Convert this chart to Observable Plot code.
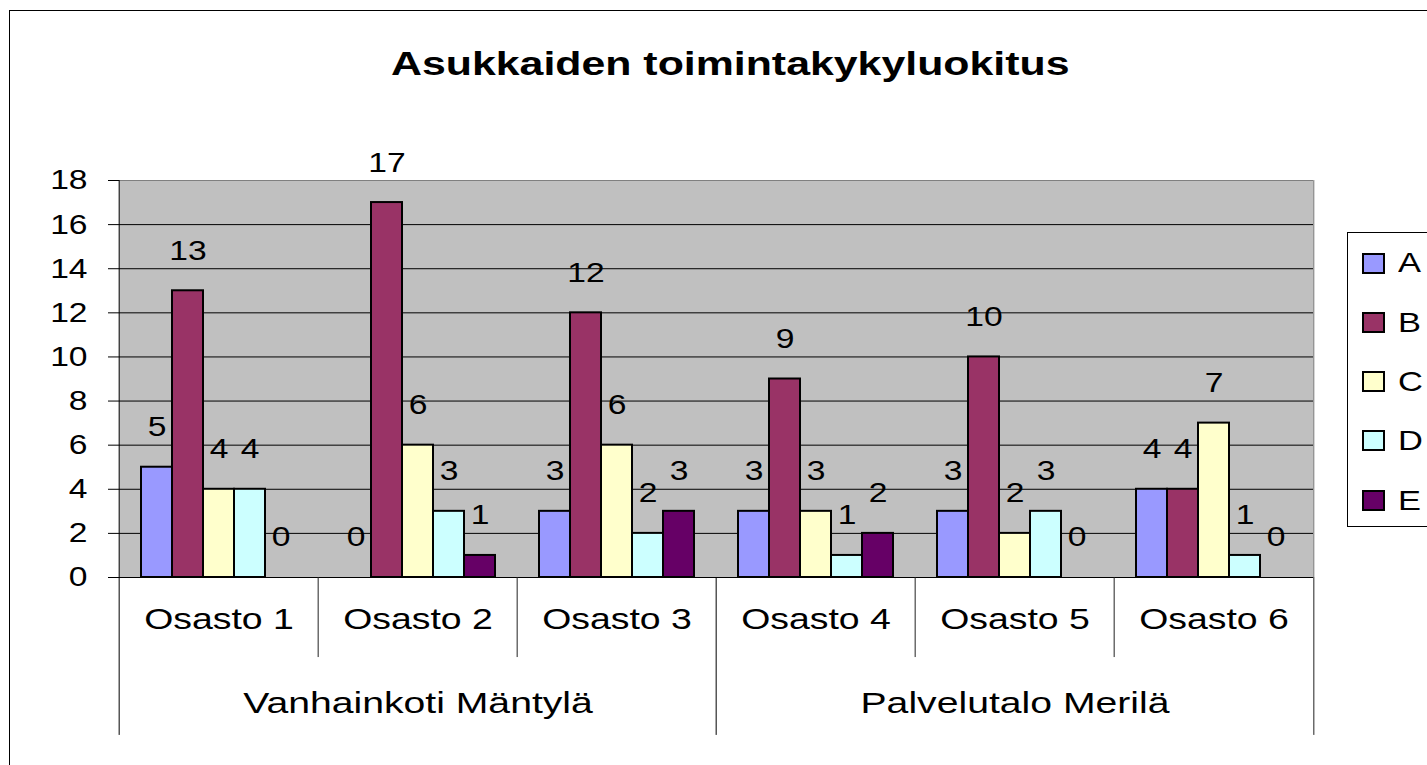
<!DOCTYPE html>
<html><head><meta charset="utf-8">
<script src="https://cdn.jsdelivr.net/npm/d3@7"></script>
<script src="https://cdn.jsdelivr.net/npm/@observablehq/plot@0.6"></script>
<style>
html,body{margin:0;padding:0;background:#fff}
#page{position:relative;width:1427px;height:765px;overflow:hidden;background:#fff;font-family:"Liberation Sans",Arial,sans-serif}
#frame{position:absolute;left:9px;top:10px;width:1500px;height:900px;border:1px solid #000}
#title{position:absolute;left:0;width:1460px;top:46px;text-align:center;font-size:34px;line-height:34px;font-weight:bold}
#title span{display:inline-block;transform:scaleX(1.26)}
#chart{position:absolute;left:0;top:130px}
#legend{position:absolute;left:1347px;top:232px;width:300px;height:295px;border:1px solid #000;box-sizing:border-box}
.item{position:absolute;left:0;top:0}
.sw{position:absolute;left:14px;width:19px;height:17px;border:2px solid #000}
.lab{position:absolute;left:50px;font-size:28px;line-height:28px;transform:scaleX(1.23);transform-origin:left center}
</style></head>
<body>
<div id="page">
<div id="frame"></div>
<div id="title"><span>Asukkaiden toimintakykyluokitus</span></div>
<div id="chart"></div>
<div id="legend"></div>
</div>
<script>
const osasto = ["Osasto 1","Osasto 2","Osasto 3","Osasto 4","Osasto 5","Osasto 6"];
const yksikot = ["Vanhainkoti Mäntylä","Palvelutalo Merilä"];
const yksikkoOsastot = [["Osasto 1","Osasto 2","Osasto 3"],["Osasto 4","Osasto 5","Osasto 6"]];
const luokat = ["A","B","C","D","E"];
const A = [5,0,3,3,3,4];
const B = [13,17,12,9,10,4];
const C = [4,6,6,3,2,7];
const D = [4,3,2,1,3,1];
const E = [0,1,3,2,0,0];
const colors = ["#9999FF","#993366","#FFFFCC","#CCFFFF","#660066"];
const yTicks = [0,2,4,6,8,10,12,14,16,18];

const seriesVals = {A, B, C, D, E};
const rows = [];
osasto.forEach((o,i)=> luokat.forEach(l => rows.push({osasto:o, luokka:l, arvo: seriesVals[l][i]})));

const W=1427,H=635,ML=117,MR=112,MT=50,MB=188;
const fw = (W-ML-MR)/osasto.length;
const yMax = yTicks[yTicks.length-1];
const longSeps = yksikkoOsastot.map(u=>u[0]).filter(o=>o!==osasto[0]);
const shortSeps = yksikkoOsastot.flatMap(u=>u.slice(1));
const last = osasto[osasto.length-1];

const chart = Plot.plot({
  width:W, height:H, marginLeft:ML, marginRight:MR, marginTop:MT, marginBottom:MB,
  style:{fontFamily:"Liberation Sans, Arial, sans-serif", fontSize:"28px", color:"#000", background:"transparent", overflow:"visible"},
  fx:{domain:osasto, padding:0, axis:null},
  x:{domain:luokat, paddingInner:0, paddingOuter:0.625, axis:null},
  y:{domain:[0,yMax], ticks:yTicks, tickSize:11, tickPadding:21, label:null},
  color:{domain:luokat, range:colors},
  marks:[
    Plot.frame({fill:"#C0C0C0", stroke:"none", insetLeft:-0.5, insetRight:-0.5}),
    Plot.ruleY(yTicks.filter(t=>t>0 && t<yMax), {stroke:"#000", strokeWidth:1}),
    Plot.ruleY([yMax], {stroke:"#808080"}),
    Plot.barY(rows, {fx:"osasto", x:"luokka", y:"arvo", fill:"luokka", stroke:"#000", strokeWidth:2}),
    Plot.ruleY([0], {stroke:"#000"}),
    Plot.text(rows, {fx:"osasto", x:"luokka", y:"arvo", text:d=>String(d.arvo), dy:-40, fontSize:28, fill:"#000"}),
    Plot.ruleX([osasto[0]], {fx:d=>d, x:null, y1:yMax, y2:-7.16, dx:-fw/2, stroke:"#000"}),
    Plot.ruleX(longSeps, {fx:d=>d, x:null, y1:0, y2:-7.16, dx:-fw/2, stroke:"#000"}),
    Plot.ruleX(shortSeps, {fx:d=>d, x:null, y1:0, y2:-3.63, dx:-fw/2, stroke:"#222"}),
    Plot.ruleX([last], {fx:d=>d, x:null, y1:0, y2:yMax, dx:fw/2, stroke:"#808080"}),
    Plot.ruleX([last], {fx:d=>d, x:null, y1:0, y2:-7.16, dx:fw/2, stroke:"#222"}),
    Plot.text(osasto, {fx:d=>d, text:d=>d, frameAnchor:"bottom", dy:51, fontSize:29, fill:"#000"}),
    Plot.text(yksikot, {fx:(d,i)=>yksikkoOsastot[i][1], text:d=>d, frameAnchor:"bottom", dy:135, fontSize:29, fill:"#000"})
  ]
});
document.getElementById("chart").append(chart);

chart.querySelectorAll("text").forEach(t => {
  const s = t.textContent;
  const f = /^\d+$/.test(s) ? 1.2 : (s.startsWith("Osasto") ? 1.29 : 1.35);
  const len = t.getComputedTextLength();
  if (len > 0) {
    t.setAttribute("textLength", len*f);
    t.setAttribute("lengthAdjust","spacingAndGlyphs");
  }
});

const legend = document.getElementById("legend");
luokat.forEach((l,i)=>{
  const c = 30 + 59.3*i;
  const it = document.createElement("div");
  it.className = "item";
  const sw = document.createElement("div");
  sw.className = "sw"; sw.style.top = (c-10.5)+"px"; sw.style.background = colors[i];
  const lab = document.createElement("div");
  lab.className = "lab"; lab.style.top = (c-13.7)+"px"; lab.textContent = l;
  it.append(sw, lab);
  legend.append(it);
});
</script>
</body></html>
